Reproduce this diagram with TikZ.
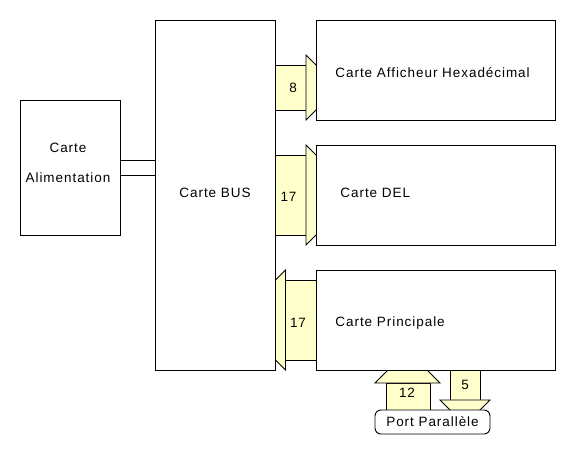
\documentclass[tikz,border=0pt]{standalone}
\usepackage{fontspec}
\setmainfont{Liberation Sans}
\newfontfamily\cartefont[LetterSpace=7]{Liberation Sans}
\usetikzlibrary{positioning}
\definecolor{busyellow}{HTML}{FFFFCC}

\begin{document}
\begin{tikzpicture}[x=1pt,y=-1pt,line width=0.9pt,
    carte/.style={draw,fill=white,rectangle,inner sep=0pt},
    bus/.style={draw,fill=busyellow,line join=miter},
    lbl/.style={font=\cartefont\fontsize{13.5}{15}\selectfont,inner sep=0pt}]
\useasboundingbox (0,0) rectangle (580,450);

% bus arrows first, cards drawn over them
\filldraw[bus] (275,65) rectangle (306,110);
\filldraw[bus] (306,55) -- (338.5,87.5) -- (306,120) -- cycle;
\filldraw[bus] (275,155) rectangle (306,235);
\filldraw[bus] (306,145) -- (356,195) -- (306,245) -- cycle;
\filldraw[bus] (285.5,280) rectangle (316,360);
\filldraw[bus] (285.5,270) -- (235.5,320) -- (285.5,370) -- cycle;
\filldraw[bus] (386,383) rectangle (430,414);
\filldraw[bus] (375,383) -- (407.5,350.5) -- (440,383) -- cycle;
\filldraw[bus] (450,368) rectangle (480,400);
\filldraw[bus] (440,400) -- (465,425) -- (490,400) -- cycle;

\node[carte,minimum width=100pt,minimum height=135pt] (alim) at (70,167.5) {};
\node[carte,minimum width=120pt,minimum height=350pt] (bus) at (215,195) {};
\node[carte,minimum width=239pt,minimum height=100pt] (hexa) at (435.5,70) {};
\node[carte,minimum width=239pt,minimum height=100pt] (del) at (435.5,195) {};
\node[carte,minimum width=239pt,minimum height=100pt] (princ) at (435.5,320) {};
\node[draw,fill=white,rounded corners=6pt,minimum width=115pt,minimum height=24pt,lbl] (port) at (432.5,422) {Port Parallèle};

\draw ([yshift=7pt]alim.east) -- ([yshift=7pt]alim.east -| bus.west);
\draw ([yshift=-7.5pt]alim.east) -- ([yshift=-7.5pt]alim.east -| bus.west);

\node[lbl] (alimA) at (68,148) {Carte};
\node[lbl] (alimB) at (68,178) {Alimentation};
\node[lbl] (busT) at (215,193) {Carte BUS};
\node[lbl,anchor=west] (hexaT) at (335,73) {Carte Afficheur Hexadécimal};
\node[lbl,anchor=west] (delT) at (340,193) {Carte DEL};
\node[lbl,anchor=west] (princT) at (335,323) {Carte Principale};

\node[lbl] (n8) at (293,88) {8};
\node[lbl] (n17a) at (288.5,197) {17};
\node[lbl] (n17b) at (298,323) {17};
\node[lbl] (n12) at (407,393) {12};
\node[lbl] (n5) at (465,385) {5};
\end{tikzpicture}
\end{document}
